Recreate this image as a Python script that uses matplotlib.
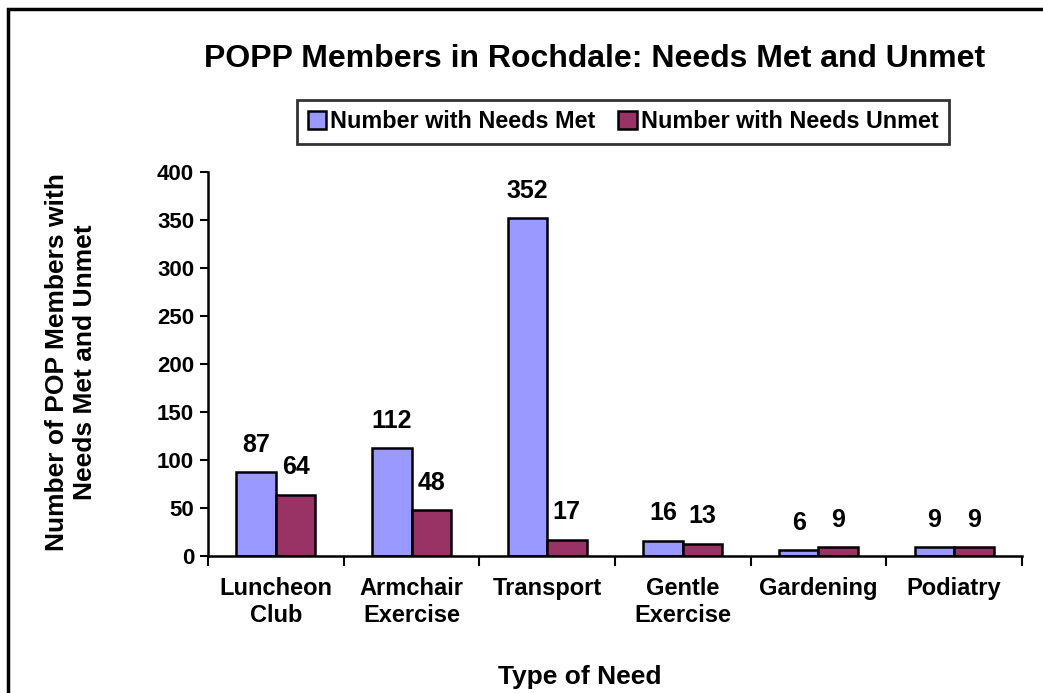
import matplotlib
matplotlib.use("Agg")
import matplotlib.pyplot as plt
from matplotlib.patches import Rectangle
import numpy as np

plt.rcParams['font.family'] = ['Liberation Sans', 'DejaVu Sans']
plt.rcParams['font.weight'] = 'bold'

categories = ["Luncheon\nClub", "Armchair\nExercise", "Transport", "Gentle\nExercise", "Gardening", "Podiatry"]
needs_met = [87, 112, 352, 16, 6, 9]
needs_unmet = [64, 48, 17, 13, 9, 9]
series_names = ["Number with Needs Met", "Number with Needs Unmet"]
yticks = [0, 50, 100, 150, 200, 250, 300, 350, 400]

W, H = 1043, 693
fig = plt.figure(figsize=(W/100, H/100), dpi=100)
ax = fig.add_axes([208/W, 1-556/H, (1022-208)/W, (556-172)/H])

x = np.arange(len(categories))
bw = 0.29
b1 = ax.bar(x - bw/2, needs_met, bw, color="#9999FF", edgecolor="black", linewidth=1.8, label=series_names[0])
b2 = ax.bar(x + bw/2, needs_unmet, bw, color="#993366", edgecolor="black", linewidth=1.8, label=series_names[1])

for bars in (b1, b2):
    for r in bars:
        ax.annotate(f"{int(r.get_height())}", (r.get_x() + r.get_width()/2, r.get_height()),
                    xytext=(0, 11), textcoords="offset points", ha="center", va="bottom",
                    fontsize=18, fontweight="bold")

ax.set_xlim(-0.5, len(categories) - 0.5)
ax.set_ylim(0, 400)
ax.set_yticks(yticks)
ax.set_yticklabels([str(v) for v in yticks], fontsize=16, fontweight="bold")
ax.set_xticks(np.arange(len(categories) + 1) - 0.5)
ax.set_xticklabels([])
ax.set_xticks(x, minor=True)
ax.set_xticklabels(categories, minor=True, fontsize=17, fontweight="bold", linespacing=1.25)
ax.tick_params(axis="x", which="minor", length=0, pad=15)
ax.tick_params(axis="x", which="major", length=7, width=1.5, direction="out")
ax.tick_params(axis="y", length=6, width=1.5, direction="out", pad=4)
for s in ("top", "right"):
    ax.spines[s].set_visible(False)
for s in ("left", "bottom"):
    ax.spines[s].set_linewidth(1.8)

fig.text(580/W, 1-677/H, "Type of Need", ha="center", va="center", fontsize=19, fontweight="bold")
fig.text(71/W, 1-362/H, "Number of POP Members with\nNeeds Met and Unmet", ha="center", va="center",
         rotation=90, fontsize=19, fontweight="bold", linespacing=1.25)

fig.text(595/W, 1-59/H, "POPP Members in Rochdale: Needs Met and Unmet", ha="center", va="center",
         fontsize=23, fontweight="bold")

leg = fig.legend(handles=[b1, b2], loc="center", bbox_to_anchor=(623/W, 1-122/H), ncol=2,
                 frameon=True, fancybox=False, handlelength=0.8, handleheight=0.8,
                 handletextpad=0.15, columnspacing=1.0, borderpad=0.45, borderaxespad=0,
                 prop={"weight": "bold", "size": 16.8})
leg.get_frame().set_edgecolor("black")
leg.get_frame().set_linewidth(2)

fig.patches.append(Rectangle((8/W, -0.1), 1.1, 1.1 - 9/H, transform=fig.transFigure,
                             fill=False, edgecolor="black", linewidth=2.5, clip_on=False))

fig.savefig("out.png", dpi=100)
